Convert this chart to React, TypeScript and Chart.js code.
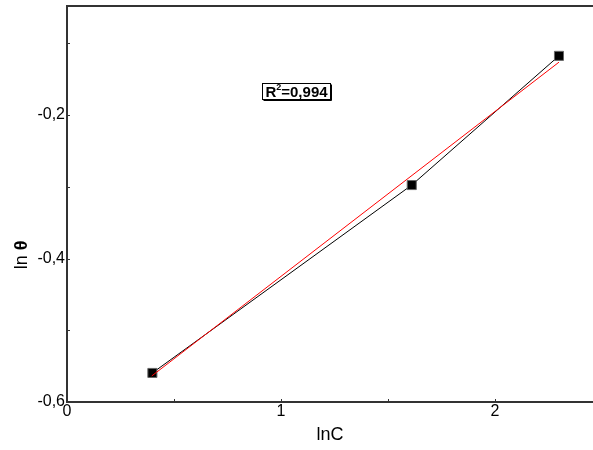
import React, { useEffect, useRef } from "react";
import { Chart, registerables } from "chart.js";

Chart.register(...registerables);

// ---- data ----
const lnC = [0.399, 1.611, 2.299];
const lnTheta = [-0.5595, -0.2976, -0.1175];
const fitX = [0.396, 2.299];
const fitY = [-0.5637, -0.1263];
const xTicks = [0, 1, 2];
const xMinorTicks = [0.5, 1.5];
const yTicks = [-0.6, -0.4, -0.2];
const yMinorTicks = [-0.5, -0.3, -0.1];
const xTitle = "lnC";
const yTitleA = "ln ";
const yTitleB = "θ";
const r2Value = "0,994";

const FONT = '"Liberation Sans", Arial, Helvetica, sans-serif';
const AXIS_COLOR = "#333";
// annotation box anchored in data units
const R2_BOX = { x0: 0.911, x1: 1.229, y0: -0.178, y1: -0.1556 };

const fmt = (v: number) => {
  const s = Math.abs(v) < 1e-9 ? "0" : Number.isInteger(v) ? String(v) : v.toFixed(1);
  return s.replace(".", ",");
};

const decorPlugin = {
  id: "decor",
  afterDraw(chart: any) {
    const { ctx, chartArea: ca, scales } = chart;
    const x = scales.x;
    const y = scales.y;
    ctx.save();
    // top frame line
    ctx.strokeStyle = AXIS_COLOR;
    ctx.lineWidth = 2;
    ctx.beginPath();
    ctx.moveTo(ca.left - 1, ca.top);
    ctx.lineTo(ca.right, ca.top);
    ctx.stroke();

    // inward tick marks
    ctx.lineWidth = 1;
    ctx.beginPath();
    [...xTicks, ...xMinorTicks].forEach((v) => {
      const px = Math.round(x.getPixelForValue(v)) + 0.5;
      ctx.moveTo(px, ca.bottom);
      ctx.lineTo(px, ca.bottom - 3);
    });
    [...yTicks, ...yMinorTicks].forEach((v) => {
      const py = Math.round(y.getPixelForValue(v)) + 0.5;
      ctx.moveTo(ca.left, py);
      ctx.lineTo(ca.left + 3, py);
    });
    ctx.stroke();

    // R^2 box
    const bx0 = Math.round(x.getPixelForValue(R2_BOX.x0)) + 0.5;
    const bx1 = Math.round(x.getPixelForValue(R2_BOX.x1)) + 0.5;
    const by0 = Math.round(y.getPixelForValue(R2_BOX.y1)) + 0.5;
    const by1 = Math.round(y.getPixelForValue(R2_BOX.y0)) + 0.5;
    ctx.strokeStyle = "#000";
    ctx.lineWidth = 1;
    ctx.strokeRect(bx0, by0, bx1 - bx0, by1 - by0);
    ctx.beginPath();
    ctx.moveTo(bx1 + 1, by0 + 1);
    ctx.lineTo(bx1 + 1, by1 + 1);
    ctx.lineTo(bx0 + 1, by1 + 1);
    ctx.stroke();

    const big = `bold 15px ${FONT}`;
    const small = `bold 9px ${FONT}`;
    ctx.fillStyle = "#000";
    ctx.textBaseline = "alphabetic";
    ctx.font = big;
    const wR = ctx.measureText("R").width;
    const wRest = ctx.measureText("=" + r2Value).width;
    ctx.font = small;
    const w2 = ctx.measureText("2").width;
    const total = wR + w2 + wRest;
    let tx = (bx0 + bx1) / 2 - total / 2;
    const base = (by0 + by1) / 2 + 5.5;
    ctx.textAlign = "left";
    ctx.font = big;
    ctx.fillText("R", tx, base);
    tx += wR;
    ctx.font = small;
    ctx.fillText("2", tx, base - 7);
    tx += w2;
    ctx.font = big;
    ctx.fillText("=" + r2Value, tx, base);

    // x title
    ctx.font = `18px ${FONT}`;
    ctx.textAlign = "center";
    ctx.textBaseline = "middle";
    ctx.fillText(xTitle, (ca.left + ca.right) / 2, ca.bottom + 33);

    // y title (rotated), "θ" bold
    ctx.translate(22, ca.bottom - 147);
    ctx.rotate(-Math.PI / 2);
    ctx.font = `18px ${FONT}`;
    const wa = ctx.measureText(yTitleA).width;
    ctx.font = `bold 18px ${FONT}`;
    const wb = ctx.measureText(yTitleB).width;
    ctx.textAlign = "left";
    const sx = -(wa + wb) / 2;
    ctx.font = `18px ${FONT}`;
    ctx.fillText(yTitleA, sx, 0);
    ctx.font = `bold 18px ${FONT}`;
    ctx.fillText(yTitleB, sx + wa, 0);
    ctx.restore();
  },
};

export default function App() {
  const ref = useRef<HTMLCanvasElement | null>(null);

  useEffect(() => {
    document.body.style.margin = "0";
    const canvas = ref.current;
    if (!canvas) return;
    const chart = new Chart(canvas, {
      type: "scatter",
      data: {
        datasets: [
          {
            label: "fit",
            data: fitX.map((v, i) => ({ x: v, y: fitY[i] })),
            showLine: true,
            borderColor: "#ff0000",
            borderWidth: 1,
            pointRadius: 0,
            order: 0,
          },
          {
            label: "data",
            data: lnC.map((v, i) => ({ x: v, y: lnTheta[i] })),
            showLine: true,
            borderColor: "#000",
            borderWidth: 1,
            pointStyle: "rect",
            pointRadius: 6.4,
            pointBackgroundColor: "#000",
            pointBorderColor: "#666",
            pointBorderWidth: 1,
            order: 1,
          },
        ],
      },
      options: {
        responsive: false,
        animation: false,
        devicePixelRatio: 1,
        layout: { autoPadding: false, padding: { top: 6, right: 0, left: 0, bottom: 0 } },
        plugins: {
          legend: { display: false },
          tooltip: { enabled: false },
          title: { display: false },
        },
        scales: {
          x: {
            type: "linear",
            position: "bottom",
            min: 0,
            max: 2.458,
            grid: { display: false, drawTicks: false },
            border: { display: true, color: AXIS_COLOR, width: 2 },
            afterBuildTicks: (s: any) => {
              s.ticks = xTicks.map((v) => ({ value: v }));
            },
            afterFit: (s: any) => {
              s.height = 48;
              s.paddingLeft = 0;
              s.paddingRight = 0;
              s.paddingTop = 0;
              s.paddingBottom = 0;
            },
            ticks: {
              color: "#000",
              padding: 0,
              maxRotation: 0,
              font: { family: FONT, size: 16 },
              callback: (v: any) => fmt(Number(v)),
            },
          },
          y: {
            type: "linear",
            min: -0.6,
            max: -0.048,
            grid: { display: false, drawTicks: false },
            border: { display: true, color: AXIS_COLOR, width: 2 },
            afterBuildTicks: (s: any) => {
              s.ticks = yTicks.map((v) => ({ value: v }));
            },
            afterFit: (s: any) => {
              s.width = 67;
              s.paddingLeft = 0;
              s.paddingRight = 0;
              s.paddingTop = 0;
              s.paddingBottom = 0;
            },
            ticks: {
              color: "#000",
              padding: 2,
              font: { family: FONT, size: 16 },
              callback: (v: any) => fmt(Number(v)),
            },
          },
        },
      },
      plugins: [decorPlugin],
    } as any);
    return () => chart.destroy();
  }, []);

  return (
    <div style={{ width: 593, height: 450 }}>
      <canvas ref={ref} width={593} height={450} style={{ display: "block" }} />
    </div>
  );
}
